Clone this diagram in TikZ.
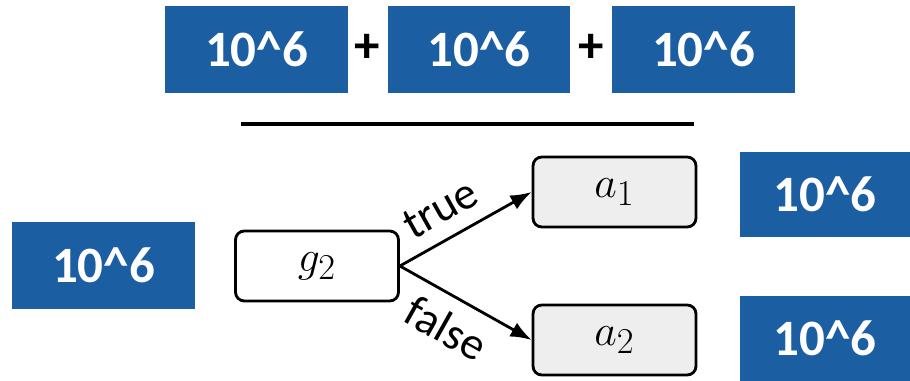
\documentclass[tikz,border=0pt]{standalone}
\usepackage{fontspec}
\setmainfont{Carlito}
\usepackage{tikz}
\usetikzlibrary{arrows.meta,positioning}
\definecolor{boxblue}{RGB}{27,94,161}
\definecolor{leafgray}{RGB}{238,238,238}

\begin{document}
\begin{tikzpicture}[x=0.02cm,y=-0.02cm]
  \tikzset{
    num/.style={fill=boxblue, text=white, font=\fontsize{29}{30}\selectfont\bfseries,
                minimum width=3.66cm, minimum height=1.74cm, inner sep=0pt},
    numr/.style={num, minimum width=3.4cm, minimum height=1.7cm},
    guard/.style={draw, line width=1.6pt, rounded corners=5pt, fill=white,
                  minimum width=3.26cm, minimum height=1.4cm, inner sep=0pt,
                  font=\fontsize{30}{31}\selectfont},
    act/.style={guard, fill=leafgray},
    edge/.style={-{Latex[length=12pt,width=9pt]}, line width=1.6pt},
    lbl/.style={font=\fontsize{26}{27}\selectfont, sloped, inner sep=1pt}
  }
  \useasboundingbox (0,0) rectangle (910,381);
  % sum on top
  \node[num] (s1) at (256.5,49.5) {10\^{}6};
  \node[num] (s2) at (479,49.5) {10\^{}6};
  \node[num] (s3) at (703.5,49.5) {10\^{}6};
  \node[font=\fontsize{29}{30}\selectfont\bfseries] (p1) at (367,48) {+};
  \node[font=\fontsize{29}{30}\selectfont\bfseries] (p2) at (591,48) {+};
  \coordinate (l1) at (241,124);
  \coordinate (l2) at (694,124);
  \draw[line width=2.3pt] (l1) -- (l2);
  % the branch
  \node[guard] (g2) at (317,266) {$g_2$};
  \node[act] (a1) at (614.5,192) {$a_1$};
  \node[act] (a2) at (614.5,340) {$a_2$};
  \draw[edge] (g2.east) -- (a1.west) node[lbl, pos=0.42, above=7pt] {true};
  \draw[edge] (g2.east) -- (a2.west) node[lbl, pos=0.47, below=7pt] {false};
  % costs
  \node[num] (cg) at (103.5,265.5) {10\^{}6};
  \node[numr] (c1) at (825,194.5) {10\^{}6};
  \node[numr] (c2) at (825,338.5) {10\^{}6};
\end{tikzpicture}
\end{document}
